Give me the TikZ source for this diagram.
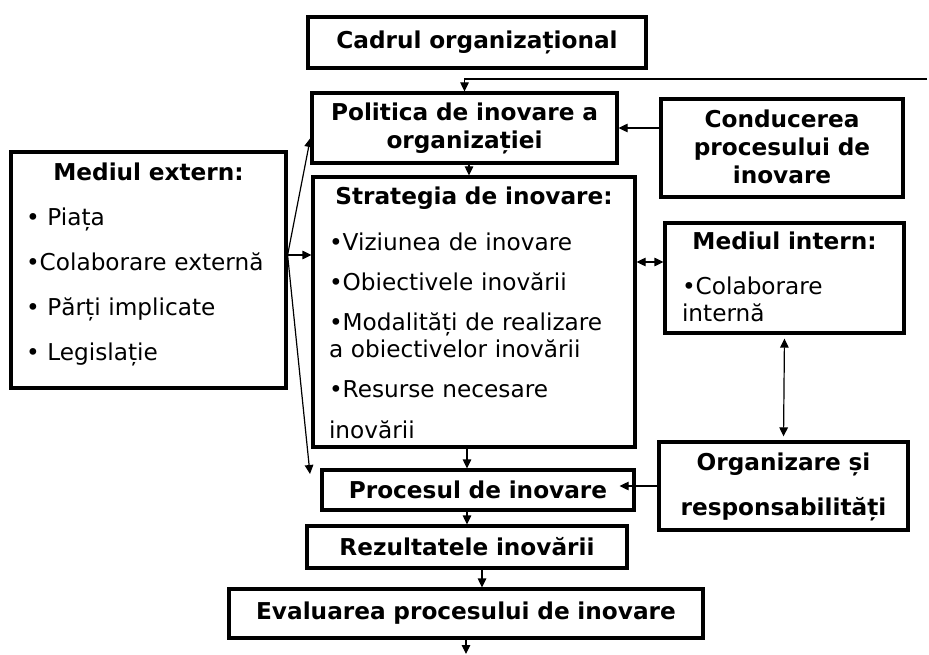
\documentclass[tikz,border=0pt]{standalone}
\usepackage{fontspec}
\setmainfont{DejaVu Sans}
\usetikzlibrary{arrows.meta}

\newcommand{\listtitle}[1]{\makebox[\linewidth]{\bfseries #1}}

\begin{document}
\begin{tikzpicture}[x=1pt, y=-1pt,
        flowbox/.style = {rectangle, draw, line width=3.2pt, align=center, inner sep=0pt,
                font=\fontsize{23.2}{28}\selectfont\bfseries},
        listbox/.style = {rectangle, draw, line width=3.2pt, align=left, inner ysep=0pt,
                font=\fontsize{23.2}{28}\selectfont},
        link/.style = {line width=1.2pt, -{Triangle[length=9pt,width=8.5pt]}},
        twoway/.style = {line width=1.2pt, {Triangle[length=9pt,width=8.5pt]}-{Triangle[length=9pt,width=8.5pt]}}
        ]
        \useasboundingbox (0,0) rectangle (929,655);

        % central column
        \node[flowbox, minimum width=338, minimum height=51, text width=320pt] (cadru) at (477,42.5) {Cadrul organizațional};
        \node[flowbox, minimum width=305, minimum height=70, text width=295pt, text height=20pt, text depth=34pt] (pol) at (464.5,128) {Politica de inovare a\\organizației};
        \node[listbox, minimum width=322, minimum height=270, inner xsep=16pt, text width=290pt, text height=20pt, text depth=234pt] (str) at (474,312)
                {\listtitle{Strategia de inovare:}\\[18pt]
                •Viziunea de inovare\\[12pt]
                •Obiectivele inovării\\[12pt]
                •Modalități de realizare\\[-1pt]
                a obiectivelor inovării\\[12pt]
                •Resurse necesare\\[13pt]
                inovării};
        \node[flowbox, minimum width=312, minimum height=40, text width=300pt] (proc) at (478,490) {Procesul de inovare};
        \node[flowbox, minimum width=320, minimum height=42, text width=305pt] (rez) at (467,547) {Rezultatele inovării};
        \node[flowbox, minimum width=474, minimum height=49, text width=460pt] (eval) at (466,613.5) {Evaluarea procesului de inovare};

        % side boxes
        \node[listbox, minimum width=275, minimum height=236, inner xsep=15pt, text width=245pt, text height=20pt, text depth=198pt] (ext) at (148.5,270)
                {\listtitle{Mediul extern:}\\[17pt]
                • Piața\\[17pt]
                •Colaborare externă\\[17pt]
                • Părți implicate\\[17pt]
                • Legislație};
        \node[flowbox, minimum width=242, minimum height=98, text width=232pt, text height=20pt, text depth=60pt] (cond) at (782,148) {Conducerea\\procesului de\\inovare};
        \node[listbox, minimum width=239, minimum height=110, inner xsep=17pt, text width=205pt, text height=20pt, text depth=76pt] (int) at (784.5,278)
                {\listtitle{Mediul intern:}\\[16pt]
                •Colaborare\\
                internă};
        \node[flowbox, minimum width=249, minimum height=88, text width=240pt, text height=20pt, text depth=52pt] (org) at (783.5,486) {Organizare și\\[17pt]responsabilități};

        % free ends
        \coordinate (feed) at (927,79);
        \coordinate (fan) at ([yshift=15pt]ext.east);
        \coordinate (low) at (310,474);
        \coordinate (out) at (466,654);
        \coordinate (mid) at ([yshift=16pt]int.west);
        \coordinate (ptip) at ([xshift=-16pt]proc.east);

        % connectors
        \draw[link] (feed) -| (pol.north);
        \draw[link] ([xshift=4.5pt]pol.south) -- ([xshift=-5pt]str.north);
        \draw[link] ([xshift=-7pt]str.south) -- ([xshift=-11pt]proc.north);
        \draw[link] ([xshift=-11pt]proc.south) -- (rez.north);
        \draw[link] ([xshift=15pt]rez.south) -- ([xshift=16pt]eval.north);
        \draw[link] (eval.south) -- (out);
        \draw[link] (cond.west |- pol.east) -- (pol.east);
        \draw[link] (fan) -- ([yshift=-10pt]pol.west);
        \draw[link] (fan) -- (fan -| str.west);
        \draw[link] (fan) -- (low);
        \draw[twoway] (mid -| str.east) -- (mid);
        \draw[twoway, shorten <=4pt, shorten >=4pt] (int.south) -- (org.north);
        \draw[link] (org.west) -- (org.west -| ptip);
\end{tikzpicture}
\end{document}
